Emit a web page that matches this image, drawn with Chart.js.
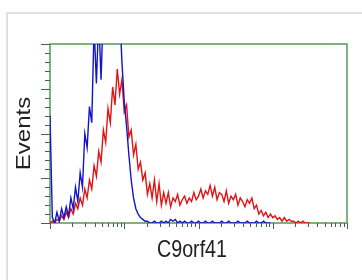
<!DOCTYPE html>
<html>
<head>
<meta charset="utf-8">
<script src="https://cdn.jsdelivr.net/npm/chart.js@4/dist/chart.umd.min.js"></script>
<style>
  html, body { margin: 0; padding: 0; background: #fff; overflow: hidden; }
  #frame { position: absolute; left: 6px; top: 12px; width: 500px; height: 400px; border: 2px solid #e0e0e0; }
  #c { position: absolute; left: 0; top: 0; }
</style>
</head>
<body>
<div id="frame"></div>
<canvas id="c" width="362" height="280"></canvas>
<script>
// ---- data ----
const xTitle = "C9orf41";
const yTitle = "Events";
const binsPerDecade = 32;                 // histogram channels per log decade
const xDecades = [1, 10, 100, 1000, 10000]; // log x-axis decade ticks
const yMajorTicks = [0, 25, 50, 75, 100];
const yMinorStep = 5;

// red: C9orf41 stained
const redCounts = [
  0,1,0,2,1,4,2,6,3,8,
  5,11,8,14,10,19,14,24,19,32,
  26,40,34,52,45,64,56,76,66,86,
  72,80,62,66,48,52,38,44,30,34,
  24,28,16,22,14,24,12,22,10,17,
  11,17,9,14,12,16,10,13,15,11,
  14,12,17,13,15,19,14,18,16,21,
  15,20,13,17,16,12,18,11,15,13,
  16,10,14,12,9,13,11,14,8,10,
  5,7,4,6,3,5,3,4,2,3,
  1,3,1,2,1,1,0,1,0,1,
  0,0,0
];
// blue: control
const blueCounts = [
  60,3,0,6,1,8,3,9,4,14,
  8,20,12,28,20,50,42,65,56,110,
  78,115,80,120,125,130,125,130,125,130,
  120,90,68,54,38,24,14,8,5,3,
  2,1,1,0,0,1,0,0,1,0,
  1,0,2,1,2,0,1,0,1,0,
  0,1,0,0,1,0,0,1,0,0,
  1,0,0,0,1,0,0,1,0,0,
  0,1,0,0,0,1,0,0,0,1,
  0,0,1,0,0,0
];

const toPoints = arr => arr.map((v, i) => ({ x: Math.pow(10, i / binsPerDecade), y: v }));

const axisGreen = '#559955';
const tickColor = '#3f6a3f';

const framePlugin = {
  id: 'frame',
  beforeDatasetsDraw(chart) {
    const { ctx, chartArea: a } = chart;
    ctx.save();
    ctx.strokeStyle = axisGreen;
    ctx.lineWidth = 1.5;
    ctx.strokeRect(a.left, a.top, a.right - a.left, a.bottom - a.top);
    ctx.restore();
  },
  afterDraw(chart) {
    const { ctx, chartArea: a, scales } = chart;
    const xs = scales.x, ys = scales.y;
    ctx.save();
    ctx.strokeStyle = tickColor;
    ctx.lineWidth = 1;
    const yMax = yMajorTicks[yMajorTicks.length - 1];
    for (let v = yMajorTicks[0]; v <= yMax; v += yMinorStep) {
      const y = Math.round(ys.getPixelForValue(v)) + 0.5;
      const len = yMajorTicks.includes(v) ? 9 : 5;
      ctx.beginPath(); ctx.moveTo(a.left - len, y); ctx.lineTo(a.left, y); ctx.stroke();
    }
    for (let d = 0; d < xDecades.length; d++) {
      const kmax = d === xDecades.length - 1 ? 1 : 9;
      for (let k = 1; k <= kmax; k++) {
        const x = Math.round(xs.getPixelForValue(xDecades[d] * k)) + 0.5;
        const len = k === 1 ? 6 : 4;
        ctx.beginPath(); ctx.moveTo(x, a.bottom); ctx.lineTo(x, a.bottom + len); ctx.stroke();
      }
    }
    ctx.fillStyle = '#222';
    ctx.font = '24px "Liberation Sans", Arial, sans-serif';
    ctx.textAlign = 'center';
    ctx.textBaseline = 'alphabetic';
    ctx.save();
    ctx.translate(192, 257);
    ctx.scale(0.82, 1);
    ctx.fillText(xTitle, 0, 0);
    ctx.restore();
    ctx.save();
    ctx.translate(30, (a.top + a.bottom) / 2);
    ctx.scale(0.82, 1);
    ctx.rotate(-Math.PI / 2);
    ctx.fillText(yTitle, 0, 0);
    ctx.restore();
    ctx.restore();
  }
};

new Chart(document.getElementById('c'), {
  type: 'line',
  data: {
    datasets: [
      { label: 'control', data: toPoints(blueCounts), borderColor: '#1414c8', borderWidth: 1.4, pointRadius: 0, tension: 0 },
      { label: 'C9orf41', data: toPoints(redCounts), borderColor: '#e01414', borderWidth: 1.4, pointRadius: 0, tension: 0 }
    ]
  },
  options: {
    responsive: false,
    animation: false,
    devicePixelRatio: 1,
    layout: { padding: { left: 0, top: 44, right: 15, bottom: 0 } },
    plugins: { legend: { display: false }, tooltip: { enabled: false } },
    scales: {
      x: {
        type: 'logarithmic', min: xDecades[0], max: xDecades[xDecades.length - 1],
        grid: { display: false }, border: { display: false }, ticks: { display: false },
        afterFit: s => { s.height = 57; }
      },
      y: {
        type: 'linear', min: yMajorTicks[0], max: yMajorTicks[yMajorTicks.length - 1],
        grid: { display: false }, border: { display: false }, ticks: { display: false },
        afterFit: s => { s.width = 50; }
      }
    }
  },
  plugins: [framePlugin]
});
</script>
</body>
</html>
